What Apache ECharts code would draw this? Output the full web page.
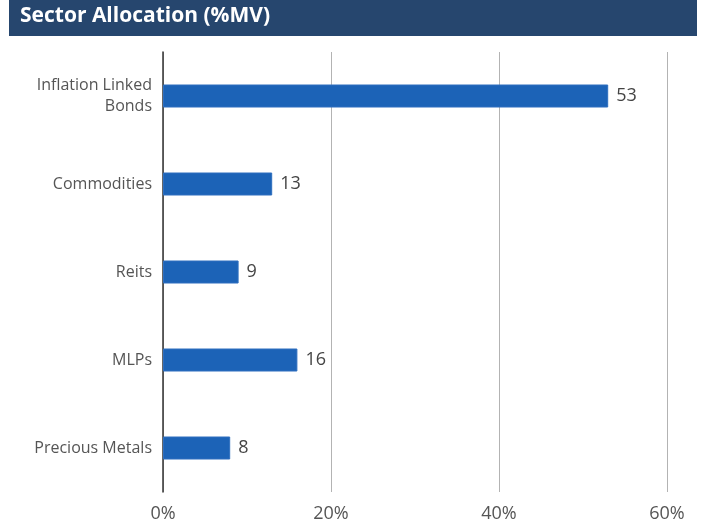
<!DOCTYPE html>
<html>
<head>
<meta charset="utf-8">
<script src="https://cdn.jsdelivr.net/npm/echarts@6/dist/echarts.min.js"></script>
<style>
  html, body { margin: 0; padding: 0; background: #ffffff; }
  #chart { width: 701px; height: 529px; }
</style>
</head>
<body>
<div id="chart"></div>
<script>
const categories = ["Inflation Linked\nBonds", "Commodities", "Reits", "MLPs", "Precious Metals"];
const values = [53, 13, 9, 16, 8];
const xTicks = [0, 20, 40, 60];

const myChart = echarts.init(document.getElementById("chart"));
const font = "'Open Sans', 'Noto Sans', sans-serif";

const option = {
  animation: false,
  textStyle: { fontFamily: font },
  graphic: [
    {
      type: "rect",
      shape: { x: 9, y: 0, width: 688, height: 36 },
      style: { fill: "#26466e" }
    },
    {
      type: "text",
      left: 20,
      top: 6,
      style: {
        text: "Sector Allocation (%MV)",
        fill: "#ffffff",
        font: "bold 21px " + font
      }
    }
  ],
  grid: {
    left: 163,
    right: 34,
    top: 52,
    bottom: 37
  },
  xAxis: {
    type: "value",
    min: xTicks[0],
    max: xTicks[xTicks.length - 1],
    interval: 20,
    axisLine: { show: false },
    axisTick: { show: false },
    splitLine: { lineStyle: { color: "#b3b3b3", width: 1 } },
    axisLabel: {
      formatter: "{value}%",
      color: "#555555",
      fontSize: 18,
      margin: 13
    }
  },
  yAxis: {
    type: "category",
    data: categories,
    inverse: true,
    axisLine: { show: true, lineStyle: { color: "#333333", width: 1.5 } },
    axisTick: { show: false },
    axisLabel: {
      color: "#555555",
      fontSize: 16,
      lineHeight: 21,
      margin: 11,
      align: "right"
    }
  },
  series: [
    {
      type: "bar",
      data: values,
      barWidth: 23,
      itemStyle: { color: "#1c63b7", borderColor: "#2f6fbf", borderWidth: 1 },
      label: {
        show: true,
        position: "right",
        distance: 8,
        color: "#444444",
        fontSize: 18
      }
    }
  ]
};

myChart.setOption(option);
</script>
</body>
</html>
